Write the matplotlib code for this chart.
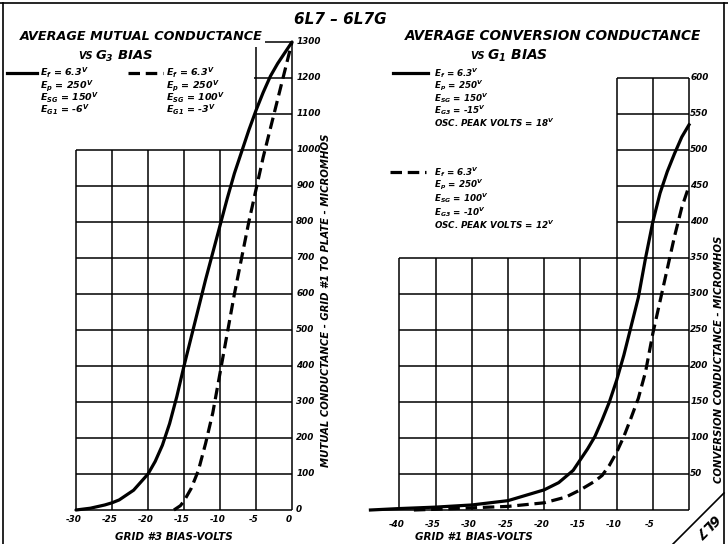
import matplotlib
matplotlib.use("Agg")
import matplotlib.pyplot as plt
from matplotlib.lines import Line2D

W, H, DPI = 728, 544, 100
FONT = "DejaVu Sans"
plt.rcParams["font.family"] = [FONT]
plt.rcParams["mathtext.fontset"] = "custom"
plt.rcParams["mathtext.rm"] = "DejaVu Sans:bold:italic"
plt.rcParams["mathtext.it"] = "DejaVu Sans:bold:italic"
plt.rcParams["mathtext.bf"] = "DejaVu Sans:bold:italic"

# ---------------- data: left chart (mutual conductance vs G3 bias) --------
g3_bias_solid = [-30, -28, -26, -25, -24, -22, -20, -19, -18, -17, -16, -15, -14,
                 -13, -12, -11, -10, -9, -8, -7, -6, -5, -4, -3, -2, -1, 0]
gm_solid = [0, 5, 14, 20, 28, 55, 100, 135, 180, 240, 315, 400, 480,
            560, 640, 715, 790, 865, 935, 995, 1055, 1110, 1160, 1205, 1240, 1270, 1300]
g3_bias_dashed = [-16.4, -15.5, -15, -14, -13, -12, -11, -10, -9, -8, -7, -6, -5,
                  -4, -3, -2, -1, 0]
gm_dashed = [0, 12, 25, 60, 110, 185, 270, 380, 490, 600, 700, 800, 890,
             980, 1060, 1140, 1220, 1300]

# ---------------- data: right chart (conversion conductance vs G1 bias) ----
g1_bias_solid = [-44, -40, -35, -30, -25, -20, -18, -16, -14, -13, -12, -11, -10,
                 -9, -8, -7, -6, -5, -4, -3, -2, -1, 0]
gc_solid = [0, 2, 4, 7, 13, 28, 38, 55, 85, 102, 125, 150, 180,
            215, 255, 295, 350, 400, 440, 470, 495, 518, 535]
g1_bias_dashed = [-38, -35, -30, -25, -20, -17, -15, -13, -12, -11, -10, -9, -8,
                  -7, -6, -5, -4, -3, -2, -1, 0]
gc_dashed = [0, 1, 3, 5, 10, 18, 28, 40, 48, 62, 80, 102, 128,
             155, 192, 245, 290, 335, 380, 420, 450]

left_xticks = [-30, -25, -20, -15, -10, -5, 0]
left_yticks = [0, 100, 200, 300, 400, 500, 600, 700, 800, 900, 1000, 1100, 1200, 1300]
right_xticks = [-40, -35, -30, -25, -20, -15, -10, -5, 0]
right_xlabels = ["-40", "-35", "-30", "-25", "-20", "-15", "-10", "-5", ""]
right_yticks = [0, 50, 100, 150, 200, 250, 300, 350, 400, 450, 500, 550, 600]

fig = plt.figure(figsize=(W / DPI, H / DPI), dpi=DPI)
fig.patch.set_facecolor("white")

def px(x, y):
    return x / W, 1 - y / H

def ftext(x, y, s, size=9, **kw):
    fx, fy = px(x, y)
    kw.setdefault("ha", "left")
    kw.setdefault("va", "center")
    fig.text(fx, fy, s, fontsize=size, fontweight="bold", fontstyle="italic", **kw)

TXT = dict(fontweight="bold", fontstyle="italic")
GLW = 1.1
CLW = 2.3
TICK = 6.3

# ---------------- left axes ----------------
ax1 = fig.add_axes([76 / W, (H - 510) / H, (292 - 76) / W, (510 - 42) / H])
ax1.set_xlim(-30, 0)
ax1.set_ylim(0, 1300)
ax1.axis("off")
for xv in left_xticks:
    top = 1300 if xv == 0 else (1285 if xv == -5 else 1000)
    ax1.vlines(xv, 0, top, color="black", lw=GLW, clip_on=False)
for yv in left_yticks:
    if yv <= 1000:
        ax1.hlines(yv, -30, 0, color="black", lw=GLW, clip_on=False)
    elif yv < 1300:
        ax1.hlines(yv, -5.3, 0, color="black", lw=GLW, clip_on=False)
    else:
        ax1.hlines(yv, -3.7, 0, color="black", lw=GLW, clip_on=False)
ax1.plot(g3_bias_solid, gm_solid, color="black", lw=CLW, solid_capstyle="round", clip_on=False)
ax1.plot(g3_bias_dashed, gm_dashed, color="black", lw=CLW, dashes=(3.6, 1.8), clip_on=False)
for yv in left_yticks:
    ax1.annotate(str(yv), xy=(0, yv), xytext=(3, 0), textcoords="offset points",
                 ha="left", va="center", fontsize=TICK, **TXT)
for xv in left_xticks:
    ax1.annotate(str(xv), xy=(xv, 0), xytext=(-2, -7), textcoords="offset points",
                 ha="center", va="center", fontsize=TICK, **TXT)

# ---------------- right axes ----------------
x0 = 689 - 44 * 7.24
ax2 = fig.add_axes([x0 / W, (H - 510) / H, (689 - x0) / W, (510 - 78) / H])
ax2.set_xlim(-44, 0)
ax2.set_ylim(0, 600)
ax2.axis("off")
for xv in right_xticks:
    top = 600 if xv >= -10 else 350
    ax2.vlines(xv, 0, top, color="black", lw=GLW, clip_on=False)
for yv in right_yticks:
    if yv == 0:
        ax2.hlines(yv, -44, 0, color="black", lw=GLW, clip_on=False)
    elif yv <= 350:
        ax2.hlines(yv, -40, 0, color="black", lw=GLW, clip_on=False)
    else:
        ax2.hlines(yv, -10, 0, color="black", lw=GLW, clip_on=False)
ax2.plot(g1_bias_solid, gc_solid, color="black", lw=CLW, clip_on=False)
ax2.plot(g1_bias_dashed, gc_dashed, color="black", lw=CLW, dashes=(3.6, 1.8), clip_on=False)
for yv in right_yticks[1:]:
    ax2.annotate(str(yv), xy=(0, yv), xytext=(1, 0), textcoords="offset points",
                 ha="left", va="center", fontsize=TICK, **TXT)
for xv, lab in zip(right_xticks, right_xlabels):
    if lab:
        ax2.annotate(lab, xy=(xv, 0), xytext=(-2, -10.5), textcoords="offset points",
                     ha="center", va="center", fontsize=TICK, **TXT)

# ---------------- titles and legends ----------------
ftext(340, 19, "6L7 \u2013 6L7G", size=11, ha="center")
ftext(20, 36, "AVERAGE MUTUAL CONDUCTANCE", size=9.2)
ftext(78, 56, "VS", size=7)
ftext(95, 56, "G$_3$ BIAS", size=9.5)
ftext(405, 36, "AVERAGE CONVERSION CONDUCTANCE", size=9.8)
ftext(470, 56, "VS", size=7)
ftext(487, 56, "G$_1$ BIAS", size=10)

fig.add_artist(Line2D([7 / W, 37 / W], [1 - 73 / H] * 2, color="black", lw=CLW))
fig.add_artist(Line2D([128 / W, 163 / W], [1 - 73 / H] * 2, color="black", lw=CLW,
                      dashes=(3.6, 1.8)))
left_solid_lines = ["E$_f$ = 6.3$^V$", "E$_p$ = 250$^V$", "E$_{SG}$ = 150$^V$", "E$_{G1}$ = -6$^V$"]
left_dashed_lines = ["E$_f$ = 6.3$^V$", "E$_p$ = 250$^V$", "E$_{SG}$ = 100$^V$", "E$_{G1}$ = -3$^V$"]
for i, s in enumerate(left_solid_lines):
    ftext(40, 73 + i * 12.3, s, size=6.8)
for i, s in enumerate(left_dashed_lines):
    ftext(166, 73 + i * 12.3, s, size=6.8)

fig.add_artist(Line2D([393 / W, 428 / W], [1 - 73 / H] * 2, color="black", lw=CLW))
fig.add_artist(Line2D([390 / W, 426 / W], [1 - 172 / H] * 2, color="black", lw=CLW,
                      dashes=(3.6, 1.8)))
right_solid_lines = ["E$_f$ = 6.3$^V$", "E$_p$ = 250$^V$", "E$_{SG}$ = 150$^V$",
                     "E$_{G3}$ = -15$^V$", "OSC. PEAK VOLTS = 18$^V$"]
right_dashed_lines = ["E$_f$ = 6.3$^V$", "E$_p$ = 250$^V$", "E$_{SG}$ = 100$^V$",
                      "E$_{G3}$ = -10$^V$", "OSC. PEAK VOLTS = 12$^V$"]
for i, s in enumerate(right_solid_lines):
    ftext(434, 73 + i * 12.5, s, size=6.3)
for i, s in enumerate(right_dashed_lines):
    ftext(434, 172 + i * 13.2, s, size=6.3)

# axis labels
ftext(174, 537, "GRID #3 BIAS-VOLTS", size=7.5, ha="center")
ftext(474, 537, "GRID #1 BIAS-VOLTS", size=7.5, ha="center")
ftext(326, 300, "MUTUAL CONDUCTANCE - GRID #1 TO PLATE - MICROMHOS", size=7.3,
      ha="center", rotation=90)
ftext(719, 359, "CONVERSION CONDUCTANCE - MICROMHOS", size=7.3, ha="center", rotation=90)

# frame and corner tag
fig.add_artist(Line2D([0, 1], [1 - 3 / H] * 2, color="black", lw=1.2))
fig.add_artist(Line2D([3 / W, 3 / W], [0, 1 - 3 / H], color="black", lw=1.2))
fig.add_artist(Line2D([724 / W, 724 / W], [0, 1 - 3 / H], color="black", lw=1.2))
fig.add_artist(Line2D([673 / W, 724 / W], [0, 51 / H], color="black", lw=1.2))
ftext(706, 526, "6L7", size=10, ha="center", rotation=225, rotation_mode="anchor")

fig.savefig("out.png", dpi=DPI, facecolor="white")
